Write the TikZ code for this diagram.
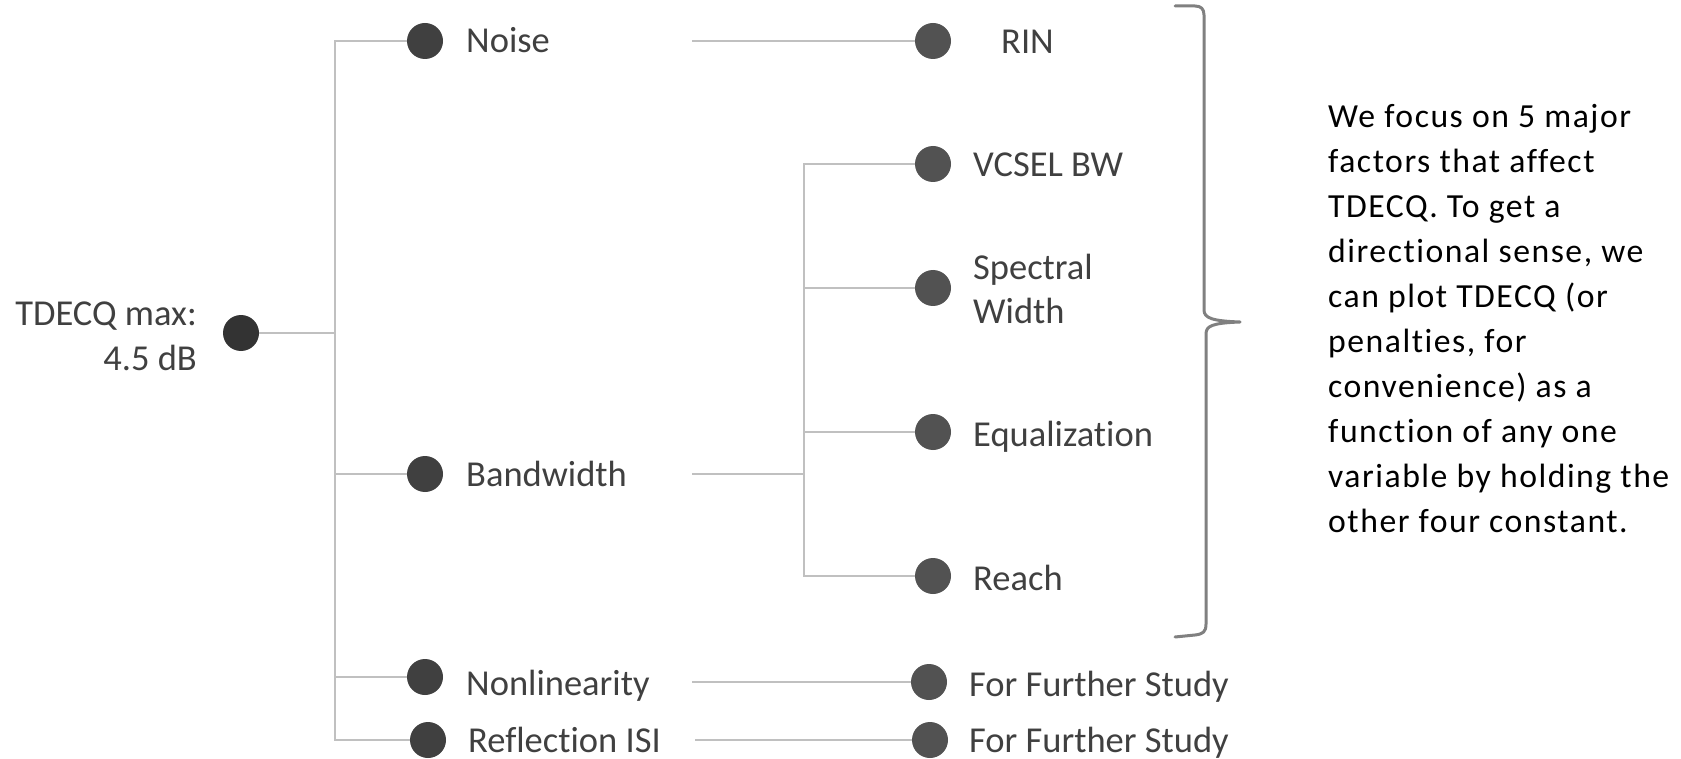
\documentclass[tikz,border=0pt]{standalone}
\usepackage{fontspec}
\setmainfont{Carlito}[Ligatures={NoCommon,NoRare}]
\newfontfamily\notefont[LetterSpace=4.5,Ligatures={NoCommon,NoRare}]{Carlito}
\definecolor{linegray}{HTML}{C0C0C0}
\definecolor{dotA}{HTML}{333333}
\definecolor{dotB}{HTML}{404040}
\definecolor{dotC}{HTML}{525252}
\definecolor{txt}{HTML}{404040}
\definecolor{bracegray}{HTML}{808080}
\begin{document}
\begin{tikzpicture}[x=1pt,y=-1pt,
  dotbase/.style={circle,inner sep=0pt,minimum size=36pt,draw=none},
  rootdot/.style={dotbase,fill=dotA},
  lvone/.style={dotbase,fill=dotB},
  lvtwo/.style={dotbase,fill=dotC},
  conn/.style={draw=linegray,line width=2pt},
  lbl/.style={anchor=base west,inner sep=0pt,text=txt,font=\fontsize{36.5}{44}\selectfont},
  bracepath/.style={draw=bracegray,line width=3pt,line cap=round,line join=round}]
\useasboundingbox (0,0) rectangle (1681,759);

% junction and free-end coordinates
\coordinate (tTop) at (335,41);
\coordinate (tRoot) at (335,333);
\coordinate (tBand) at (335,474);
\coordinate (tNon) at (335,677);
\coordinate (tRef) at (335,740);
\coordinate (nE) at (692,41);
\coordinate (bE) at (692,474);
\coordinate (nlE) at (692,682);
\coordinate (rE) at (695,740);
\coordinate (sTop) at (804,164);
\coordinate (sBand) at (804,474);
\coordinate (sSpec) at (804,288);
\coordinate (sEq) at (804,432);
\coordinate (sReach) at (804,576);

% dots
\node[rootdot] (root) at (241,333) {};
\node[lvone] (noise) at (425,41) {};
\node[lvone] (band) at (425,474) {};
\node[lvone] (nonl) at (425,677) {};
\node[lvone] (refl) at (428,740) {};
\node[lvtwo] (rin) at (933,41) {};
\node[lvtwo] (vcsel) at (933,164) {};
\node[lvtwo] (spec) at (933,288) {};
\node[lvtwo] (equ) at (933,432) {};
\node[lvtwo] (reach) at (933,576) {};
\node[lvtwo] (ffsa) at (929,682) {};
\node[lvtwo] (ffsb) at (930,740) {};

% connectors
\draw[conn] (root) -- (tRoot);
\draw[conn] (noise) -- (tTop) -- (tRef) -- (refl);
\draw[conn] (tBand) -- (band);
\draw[conn] (tNon) -- (nonl);
\draw[conn] (nE) -- (rin);
\draw[conn] (bE) -- (sBand);
\draw[conn] (vcsel) -- (sTop) -- (sReach) -- (reach);
\draw[conn] (sSpec) -- (spec);
\draw[conn] (sEq) -- (equ);
\draw[conn] (nlE) -- (ffsa);
\draw[conn] (rE) -- (ffsb);

% labels
\node[lbl,anchor=base east] (rootlbl) at (197,325) {\parbox[t]{200pt}{\raggedleft\fontsize{36.5}{45}\selectfont TDECQ max:\\4.5 dB}};
\node[lbl] (noiselbl) at (466,52.7) {Noise};
\node[lbl] (bandlbl) at (466,486.7) {Bandwidth};
\node[lbl] (nonllbl) at (466,695) {Nonlinearity};
\node[lbl] (refllbl) at (468,752.7) {Reflection ISI};
\node[lbl] (rinlbl) at (1001,53.3) {RIN};
\node[lbl] (vcsellbl) at (973,176.7) {VCSEL BW};
\node[lbl] (speclbl) at (973,279.3) {\parbox[t]{200pt}{\raggedright\fontsize{36.5}{44}\selectfont Spectral\\Width}};
\node[lbl] (equlbl) at (973,446.7) {Equalization};
\node[lbl] (reachlbl) at (973,590) {Reach};
\node[lbl] (ffsalbl) at (969,696) {For Further Study};
\node[lbl] (ffsblbl) at (969,752.7) {For Further Study};

% brace
\draw[bracepath] (1175,6) -- (1195,6) .. controls (1201,6) and (1204,9) .. (1204,15) -- (1204,310)
  .. controls (1204,318) and (1212,321) .. (1240,322)
  .. controls (1212,323) and (1206,326) .. (1206,334) -- (1206,624)
  .. controls (1206,632) and (1203,634) .. (1195,635) -- (1175,637);

% note
\node[anchor=base west,inner sep=0pt,text=black] (note) at (1328,128) {\parbox[t]{360pt}{\raggedright\notefont\fontsize{33.7}{45}\selectfont
We focus on 5 major\\
factors that affect\\
TDECQ. To get a\\
directional sense, we\\
can plot TDECQ (or\\
penalties, for\\
convenience) as a\\
function of any one\\
variable by holding the\\
other four constant.}};
\end{tikzpicture}
\end{document}
